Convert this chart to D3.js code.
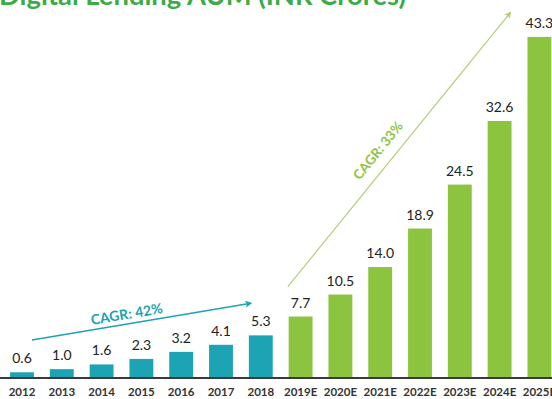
<!DOCTYPE html>
<html>
<head>
<meta charset="utf-8">
<script src="https://cdn.jsdelivr.net/npm/d3@7"></script>
<style>
  html, body { margin: 0; padding: 0; background: #fff; }
  svg { display: block; }
</style>
</head>
<body>
<svg id="chart" width="552" height="399"></svg>
<script>
// Digital lending AUM, INR crores
const years = ["2012","2013","2014","2015","2016","2017","2018",
               "2019E","2020E","2021E","2022E","2023E","2024E","2025E"];
const aum = [0.6, 1.0, 1.6, 2.3, 3.2, 4.1, 5.3, 7.7, 10.5, 14.0, 18.9, 24.5, 32.6, 43.3];
const actualYears = 7; // first 7 entries are historical, rest are estimates
const titleText = "Digital Lending AUM (INR Crores)";
const cagrLabels = ["CAGR: 42%", "CAGR: 33%"];
// growth arrows as [year index, value] pairs
const cagrArrows = [
  [[0.25, 4.7], [5.75, 9.4]],
  [[6.68, 11.5], [12.27, 46.4]]
];

const W = 552, H = 399;
const teal = "#1ca3b4", green = "#8cc43f", arrowGreen = "#b3cd7c";
const svg = d3.select("#chart");

const x = d3.scaleBand().domain(years).range([2.1, 559.3])
  .paddingInner(0.4).paddingOuter(0.2);
const y = d3.scaleLinear().domain([0, 48]).range([377, 0]);
const xi = d3.scaleLinear().domain([0, years.length - 1])
  .range([x(years[0]) + x.bandwidth() / 2, x(years[years.length - 1]) + x.bandwidth() / 2]);

const rows = years.map((yr, i) => ({ yr, v: aum[i], actual: i < actualYears }));

// title (runs off the top edge)
svg.append("text")
  .attr("x", -1).attr("y", 5)
  .attr("font-family", "Lato, 'Open Sans', sans-serif")
  .attr("font-weight", 700).attr("font-size", 26)
  .attr("fill", "#3daa48")
  .attr("textLength", 407).attr("lengthAdjust", "spacingAndGlyphs")
  .text(titleText);

// bars
svg.append("g").selectAll("rect").data(rows).join("rect")
  .attr("x", d => x(d.yr))
  .attr("width", x.bandwidth())
  .attr("y", d => y(d.v))
  .attr("height", d => y(0) - y(d.v))
  .attr("fill", d => d.actual ? teal : green);

// value labels
svg.append("g").selectAll("text").data(rows).join("text")
  .attr("x", d => x(d.yr) + x.bandwidth() / 2)
  .attr("y", d => y(d.v) - 9)
  .attr("text-anchor", "middle")
  .attr("font-family", "Lato, sans-serif")
  .attr("font-size", 14)
  .attr("fill", "#222")
  .text(d => d.v.toFixed(1));

// baseline axis with year labels
const axis = svg.append("g").attr("transform", `translate(0,${y(0)})`)
  .call(d3.axisBottom(x).tickSize(0).tickPadding(11));
axis.select(".domain").remove();
axis.selectAll("text")
  .attr("font-family", "Lato, sans-serif")
  .attr("font-size", 11.5)
  .attr("font-weight", 700)
  .attr("fill", "#333");
svg.append("line")
  .attr("x1", 0).attr("x2", W)
  .attr("y1", y(0) + 1).attr("y2", y(0) + 1)
  .attr("stroke", "#3a3a3a").attr("stroke-width", 2);

// arrow markers
const defs = svg.append("defs");
[["headTeal", teal], ["headGreen", arrowGreen]].forEach(([id, c]) => {
  defs.append("marker").attr("id", id)
    .attr("viewBox", "0 0 10 10").attr("refX", 8).attr("refY", 5)
    .attr("markerWidth", 7).attr("markerHeight", 7)
    .attr("markerUnits", "userSpaceOnUse")
    .attr("orient", "auto")
    .append("path").attr("d", "M0,0 L10,5 L0,10 L2.5,5 Z").attr("fill", c);
});

// CAGR arrows and their labels
const arrowColors = [teal, arrowGreen];
const labelColors = [teal, green];
const heads = ["headTeal", "headGreen"];
const labelPos = [0.44, 0.46];
const labelOffsets = [5, 11];
cagrArrows.forEach((a, k) => {
  const [p0, p1] = a.map(([i, v]) => [xi(i), y(v)]);
  svg.append("line")
    .attr("x1", p0[0]).attr("y1", p0[1])
    .attr("x2", p1[0]).attr("y2", p1[1])
    .attr("stroke", arrowColors[k])
    .attr("stroke-width", k === 0 ? 1.6 : 1.2)
    .attr("marker-end", `url(#${heads[k]})`);
  const ang = Math.atan2(p1[1] - p0[1], p1[0] - p0[0]) * 180 / Math.PI;
  const t = labelPos[k];
  const mx = p0[0] + (p1[0] - p0[0]) * t;
  const my = p0[1] + (p1[1] - p0[1]) * t;
  svg.append("text")
    .attr("transform", `translate(${mx},${my}) rotate(${ang}) translate(0,${-labelOffsets[k]})`)
    .attr("text-anchor", "middle")
    .attr("font-family", "Lato, sans-serif")
    .attr("font-weight", 700)
    .attr("font-size", k === 0 ? 14 : 13.5)
    .attr("fill", labelColors[k])
    .text(cagrLabels[k]);
});
</script>
</body>
</html>
